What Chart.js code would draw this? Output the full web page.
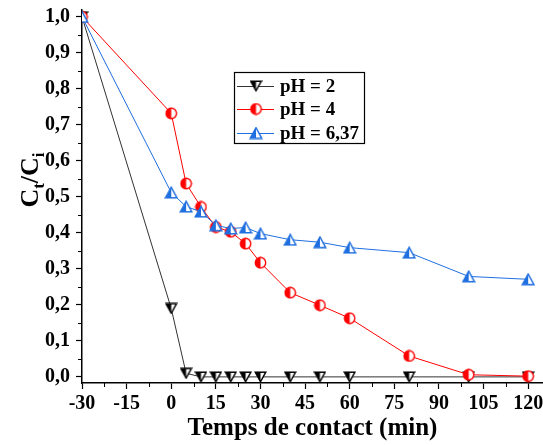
<!DOCTYPE html>
<html>
<head>
<meta charset="utf-8">
<script src="https://cdn.jsdelivr.net/npm/chart.js@4/dist/chart.umd.min.js"></script>
<style>
html,body{margin:0;padding:0;background:#fff;}
#wrap{width:543px;height:445px;position:relative;}
</style>
</head>
<body>
<div id="wrap"><canvas id="c" width="543" height="445"></canvas></div>
<script>
// ---- data ----
const times = [-30, 0, 5, 10, 15, 20, 25, 30, 40, 50, 60, 80, 100, 120];
const ph2 = [1.0, 0.19, 0.01, 0, 0, 0, 0, 0, 0, 0, 0, 0, 0, 0];
const ph4 = [1.0, 0.732, 0.537, 0.472, 0.416, 0.403, 0.370, 0.317, 0.234, 0.199, 0.163, 0.058, 0.006, 0.002];
const ph637 = [1.0, 0.512, 0.473, 0.459, 0.421, 0.412, 0.415, 0.398, 0.381, 0.374, 0.359, 0.345, 0.279, 0.271];
const seriesLabels = ['pH = 2', 'pH = 4', 'pH = 6,37'];
const xTicks = [-30, -15, 0, 15, 30, 45, 60, 75, 90, 105, 120];
const yTicks = [0, 0.1, 0.2, 0.3, 0.4, 0.5, 0.6, 0.7, 0.8, 0.9, 1.0];
const xMinor = [-22.5, -7.5, 7.5, 22.5, 37.5, 52.5, 67.5, 82.5, 97.5, 112.5];
const yMinor = [0.05, 0.15, 0.25, 0.35, 0.45, 0.55, 0.65, 0.75, 0.85, 0.95];

const BLACK = '#000000', RED = '#ff0000', BLUE = '#1f6fe0';
const FONT = '"Liberation Serif","Times New Roman",serif';

// ---- half-filled markers ----
function mk(w, h, draw) {
  const c = document.createElement('canvas');
  c.width = w; c.height = h;
  draw(c.getContext('2d'), w, h);
  return c;
}
function halfFill(ctx, pathFn, color, w, h) {
  ctx.save();
  pathFn(); ctx.fillStyle = '#fff'; ctx.fill();
  ctx.beginPath(); ctx.rect(0, 0, w / 2, h); ctx.clip();
  pathFn(); ctx.fillStyle = color; ctx.fill();
  ctx.restore();
  pathFn(); ctx.strokeStyle = color; ctx.lineWidth = 1.4; ctx.stroke();
}
const circ = mk(13, 13, (ctx, w, h) => {
  halfFill(ctx, () => { ctx.beginPath(); ctx.arc(6.5, 6.5, 5.2, 0, Math.PI * 2); }, RED, w, h);
});
const triUp = mk(14, 13, (ctx, w, h) => {
  halfFill(ctx, () => { ctx.beginPath(); ctx.moveTo(7, 1.2); ctx.lineTo(12.8, 11.8); ctx.lineTo(1.2, 11.8); ctx.closePath(); }, BLUE, w, h);
});
const triDown = mk(13, 12, (ctx, w, h) => {
  halfFill(ctx, () => { ctx.beginPath(); ctx.moveTo(1.2, 1.2); ctx.lineTo(11.8, 1.2); ctx.lineTo(6.5, 10.8); ctx.closePath(); }, BLACK, w, h);
});
const markers = [triDown, circ, triUp];
const lineColors = ['#333333', RED, BLUE];

function pts(arr) { return times.map((t, i) => ({ x: t, y: arr[i] })); }

const decor = {
  id: 'decor',
  afterDraw(chart) {
    const ctx = chart.ctx;
    const xs = chart.scales.x, ys = chart.scales.y;
    ctx.save();
    // minor ticks
    ctx.strokeStyle = '#000'; ctx.lineWidth = 1;
    xMinor.forEach(v => {
      const px = Math.round(xs.getPixelForValue(v)) + 0.5;
      ctx.beginPath(); ctx.moveTo(px, ys.bottom); ctx.lineTo(px, ys.bottom + 4); ctx.stroke();
    });
    yMinor.forEach(v => {
      const py = Math.round(ys.getPixelForValue(v)) + 0.5;
      ctx.beginPath(); ctx.moveTo(xs.left, py); ctx.lineTo(xs.left - 4, py); ctx.stroke();
    });
    // y title C_t / C_i
    ctx.translate(38, 180);
    ctx.rotate(-Math.PI / 2);
    ctx.fillStyle = '#000';
    ctx.textBaseline = 'alphabetic';
    ctx.textAlign = 'left';
    const big = 'bold 26px ' + FONT, small = 'bold 17px ' + FONT;
    const parts = [['C', big, 0], ['t', small, 6], ['/C', big, 0], ['i', small, 6]];
    let total = 0;
    parts.forEach(p => { ctx.font = p[1]; total += ctx.measureText(p[0]).width; });
    let x = -total / 2;
    parts.forEach(p => { ctx.font = p[1]; ctx.fillText(p[0], x, p[2]); x += ctx.measureText(p[0]).width; });
    ctx.restore();

    // legend box
    ctx.save();
    const bx = 234, by = 72, bw = 130, bh = 71;
    ctx.fillStyle = '#fff'; ctx.fillRect(bx, by, bw, bh);
    ctx.strokeStyle = '#000'; ctx.lineWidth = 1.2;
    ctx.strokeRect(bx + 0.5, by + 0.5, bw, bh);
    ctx.font = 'bold 19px ' + FONT;
    ctx.textBaseline = 'middle';
    ctx.textAlign = 'left';
    const rows = [86, 109, 133];
    chart.data.datasets.forEach((ds, i) => {
      const yy = rows[i];
      ctx.strokeStyle = lineColors[i]; ctx.lineWidth = 1;
      ctx.beginPath(); ctx.moveTo(237, yy + 0.5); ctx.lineTo(274, yy + 0.5); ctx.stroke();
      const m = markers[i];
      ctx.drawImage(m, 256 - m.width / 2, yy - m.height / 2);
      ctx.fillStyle = '#000';
      ctx.fillText(ds.label, 280, yy + 1);
    });
    ctx.restore();
  }
};

new Chart(document.getElementById('c'), {
  type: 'line',
  data: {
    datasets: [
      { label: seriesLabels[0], data: pts(ph2), borderColor: lineColors[0], borderWidth: 1, pointStyle: triDown, pointRadius: 6, order: 3 },
      { label: seriesLabels[1], data: pts(ph4), borderColor: lineColors[1], borderWidth: 1, pointStyle: circ, pointRadius: 6, order: 2 },
      { label: seriesLabels[2], data: pts(ph637), borderColor: lineColors[2], borderWidth: 1, pointStyle: triUp, pointRadius: 6, order: 1 }
    ]
  },
  options: {
    responsive: false,
    animation: false,
    layout: { autoPadding: false, padding: { top: 10, right: 0, left: 0, bottom: 0 } },
    plugins: { legend: { display: false }, tooltip: { enabled: false } },
    elements: { line: { tension: 0 } },
    scales: {
      x: {
        type: 'linear', min: -30, max: 125,
        afterBuildTicks(s) { s.ticks = xTicks.map(v => ({ value: v })); },
        afterFit(s) { s.height = 62; s.paddingLeft = 0; s.paddingRight = 0; },
        border: { display: true, color: '#000', width: 1.5 },
        grid: { drawOnChartArea: false, drawTicks: true, tickLength: 6, tickColor: '#000', tickWidth: 1.2 },
        ticks: { color: '#000', font: { family: FONT, size: 20, weight: 'bold' }, padding: 3, maxRotation: 0, minRotation: 0, autoSkip: false, callback: v => String(v) },
        title: { display: true, text: 'Temps de contact (min)', color: '#000', font: { family: FONT, size: 25, weight: 'bold' }, padding: { top: 0, bottom: 1 } }
      },
      y: {
        type: 'linear', min: -0.017, max: 1.019,
        afterBuildTicks(s) { s.ticks = yTicks.map(v => ({ value: v })); },
        afterFit(s) { s.width = 82; s.paddingTop = 0; s.paddingBottom = 0; },
        border: { display: true, color: '#000', width: 1.5 },
        grid: { drawOnChartArea: false, drawTicks: true, tickLength: 6, tickColor: '#000', tickWidth: 1.2 },
        ticks: { color: '#000', font: { family: FONT, size: 20, weight: 'bold' }, padding: 6, autoSkip: false, callback: v => v.toFixed(1).replace('.', ',') }
      }
    }
  },
  plugins: [decor]
});
</script>
</body>
</html>
